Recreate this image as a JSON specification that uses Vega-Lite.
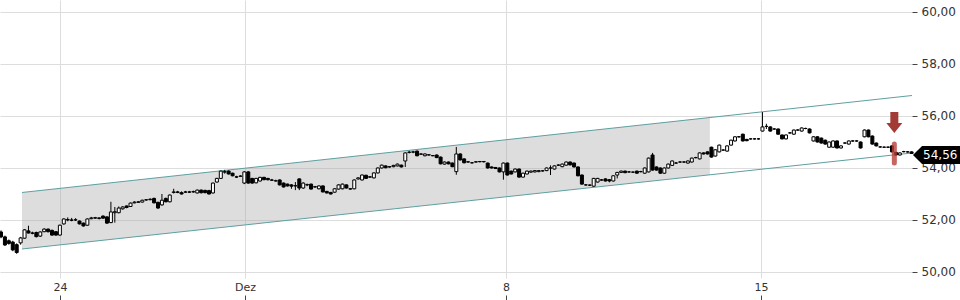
{
  "$schema": "https://vega.github.io/schema/vega-lite/v6.json",
  "width": 912,
  "height": 278,
  "autosize": {"type": "none"},
  "padding": {"left": 0, "top": 0, "right": 48, "bottom": 22},
  "config": {
    "font": "DejaVu Sans",
    "view": {"stroke": null},
    "axis": {"gridColor": "#dddddd", "labelColor": "#333333", "labelFontSize": 11, "domain": false}
  },
  "datasets": {
    "channelArea": [
      {"i": 5.35, "lo": 50.885, "hi": 53.058},
      {"i": 180.6, "lo": 53.738, "hi": 55.942}
    ],
    "channelLines": [
      {"x1": 5.35, "v1": 53.058, "x2": 232.1, "v2": 56.788},
      {"x1": 5.35, "v1": 50.885, "x2": 232.1, "v2": 54.577}
    ],
    "signal": [
      {"i": 227.6, "top": 55.75, "lo": 54.19, "hi": 54.92}
    ],
    "last": [
      {"i": 238.34, "ti": 239.3, "v": 54.5, "label": "54,56"}
    ],
    "candles": [
{"i":0,"o":51.54,"h":51.6,"l":51.3,"c":51.35},
{"i":1,"o":51.35,"h":51.4,"l":51.0,"c":51.04},
{"i":2,"o":51.2,"h":51.25,"l":51.05,"c":51.1},
{"i":3,"o":51.15,"h":51.2,"l":50.8,"c":50.85},
{"i":4,"o":51.05,"h":51.1,"l":50.7,"c":50.75},
{"i":5,"o":51.12,"h":51.35,"l":51.05,"c":51.31},
{"i":6,"o":51.3,"h":51.65,"l":51.28,"c":51.62},
{"i":7,"o":51.58,"h":51.78,"l":51.48,"c":51.5},
{"i":8,"o":51.5,"h":51.55,"l":51.45,"c":51.49},
{"i":9,"o":51.52,"h":51.55,"l":51.33,"c":51.36},
{"i":10,"o":51.38,"h":51.56,"l":51.35,"c":51.54},
{"i":11,"o":51.55,"h":51.68,"l":51.53,"c":51.65},
{"i":12,"o":51.65,"h":51.67,"l":51.52,"c":51.55},
{"i":13,"o":51.6,"h":51.63,"l":51.4,"c":51.42},
{"i":14,"o":51.55,"h":51.57,"l":51.4,"c":51.42},
{"i":15,"o":51.42,"h":51.82,"l":51.4,"c":51.8},
{"i":16,"o":51.85,"h":52.06,"l":51.82,"c":52.04},
{"i":17,"o":52.0,"h":52.1,"l":51.95,"c":52.02},
{"i":18,"o":52.0,"h":52.08,"l":51.95,"c":51.99},
{"i":19,"o":52.0,"h":52.07,"l":51.96,"c":52.01},
{"i":20,"o":51.96,"h":51.98,"l":51.83,"c":51.85},
{"i":21,"o":51.88,"h":51.9,"l":51.75,"c":51.77},
{"i":22,"o":51.8,"h":52.06,"l":51.78,"c":52.04},
{"i":23,"o":52.05,"h":52.12,"l":52.03,"c":52.08},
{"i":24,"o":52.07,"h":52.12,"l":52.04,"c":52.09},
{"i":25,"o":52.08,"h":52.1,"l":52.02,"c":52.06},
{"i":26,"o":52.15,"h":52.18,"l":52.05,"c":52.07},
{"i":27,"o":52.12,"h":52.14,"l":51.85,"c":51.88},
{"i":28,"o":51.9,"h":52.7,"l":51.88,"c":52.31},
{"i":29,"o":52.28,"h":52.5,"l":51.9,"c":52.32},
{"i":30,"o":52.28,"h":52.52,"l":52.26,"c":52.46},
{"i":31,"o":52.43,"h":52.53,"l":52.4,"c":52.5},
{"i":32,"o":52.54,"h":52.56,"l":52.45,"c":52.48},
{"i":33,"o":52.52,"h":52.67,"l":52.5,"c":52.65},
{"i":34,"o":52.66,"h":52.72,"l":52.64,"c":52.69},
{"i":35,"o":52.68,"h":52.73,"l":52.66,"c":52.7},
{"i":36,"o":52.69,"h":52.78,"l":52.67,"c":52.76},
{"i":37,"o":52.77,"h":52.8,"l":52.74,"c":52.78},
{"i":38,"o":52.78,"h":52.83,"l":52.76,"c":52.8},
{"i":39,"o":52.83,"h":52.86,"l":52.64,"c":52.66},
{"i":40,"o":52.68,"h":52.7,"l":52.43,"c":52.46},
{"i":41,"o":52.58,"h":53.0,"l":52.55,"c":52.76},
{"i":42,"o":52.83,"h":52.86,"l":52.68,"c":52.7},
{"i":43,"o":52.7,"h":52.98,"l":52.68,"c":52.96},
{"i":44,"o":53.06,"h":53.2,"l":53.02,"c":53.08},
{"i":45,"o":53.08,"h":53.12,"l":53.03,"c":53.06},
{"i":46,"o":53.05,"h":53.1,"l":52.98,"c":53.0},
{"i":47,"o":53.07,"h":53.12,"l":53.04,"c":53.08},
{"i":48,"o":53.08,"h":53.12,"l":53.04,"c":53.07},
{"i":49,"o":53.08,"h":53.13,"l":53.05,"c":53.09},
{"i":50,"o":53.04,"h":53.17,"l":53.02,"c":53.15},
{"i":51,"o":53.15,"h":53.17,"l":53.02,"c":53.05},
{"i":52,"o":53.14,"h":53.16,"l":53.03,"c":53.05},
{"i":53,"o":53.13,"h":53.16,"l":52.98,"c":53.0},
{"i":54,"o":53.04,"h":53.44,"l":53.02,"c":53.42},
{"i":55,"o":53.46,"h":53.62,"l":53.44,"c":53.6},
{"i":56,"o":53.6,"h":53.9,"l":53.58,"c":53.88},
{"i":57,"o":53.84,"h":53.93,"l":53.78,"c":53.86},
{"i":58,"o":53.88,"h":53.91,"l":53.75,"c":53.77},
{"i":59,"o":53.8,"h":53.82,"l":53.68,"c":53.7},
{"i":60,"o":53.66,"h":53.7,"l":53.62,"c":53.65},
{"i":61,"o":53.68,"h":53.72,"l":53.66,"c":53.69},
{"i":62,"o":53.42,"h":53.88,"l":53.38,"c":53.85},
{"i":63,"o":53.85,"h":53.88,"l":53.4,"c":53.42},
{"i":64,"o":53.6,"h":53.62,"l":53.4,"c":53.42},
{"i":65,"o":53.43,"h":53.62,"l":53.41,"c":53.6},
{"i":66,"o":53.5,"h":53.66,"l":53.48,"c":53.64},
{"i":67,"o":53.64,"h":53.66,"l":53.53,"c":53.55},
{"i":68,"o":53.6,"h":53.62,"l":53.52,"c":53.55},
{"i":69,"o":53.54,"h":53.58,"l":53.5,"c":53.53},
{"i":70,"o":53.5,"h":53.55,"l":53.48,"c":53.51},
{"i":71,"o":53.54,"h":53.56,"l":53.33,"c":53.35},
{"i":72,"o":53.42,"h":53.44,"l":53.25,"c":53.27},
{"i":73,"o":53.38,"h":53.4,"l":53.29,"c":53.31},
{"i":74,"o":53.35,"h":53.38,"l":53.2,"c":53.3},
{"i":75,"o":53.32,"h":53.46,"l":53.15,"c":53.31},
{"i":76,"o":53.58,"h":53.6,"l":53.15,"c":53.23},
{"i":77,"o":53.23,"h":53.45,"l":53.2,"c":53.42},
{"i":78,"o":53.35,"h":53.4,"l":53.3,"c":53.36},
{"i":79,"o":53.38,"h":53.4,"l":53.17,"c":53.19},
{"i":80,"o":53.27,"h":53.31,"l":53.24,"c":53.28},
{"i":81,"o":53.2,"h":53.33,"l":53.18,"c":53.31},
{"i":82,"o":53.31,"h":53.33,"l":53.06,"c":53.08},
{"i":83,"o":53.1,"h":53.12,"l":53.02,"c":53.04},
{"i":84,"o":53.06,"h":53.08,"l":52.98,"c":53.0},
{"i":85,"o":53.07,"h":53.22,"l":53.05,"c":53.2},
{"i":86,"o":53.19,"h":53.37,"l":53.17,"c":53.35},
{"i":87,"o":53.2,"h":53.4,"l":53.18,"c":53.38},
{"i":88,"o":53.35,"h":53.37,"l":53.21,"c":53.23},
{"i":89,"o":53.2,"h":53.23,"l":53.17,"c":53.19},
{"i":90,"o":53.2,"h":53.56,"l":53.18,"c":53.54},
{"i":91,"o":53.58,"h":53.64,"l":53.55,"c":53.62},
{"i":92,"o":53.54,"h":53.75,"l":53.52,"c":53.73},
{"i":93,"o":53.72,"h":53.74,"l":53.58,"c":53.6},
{"i":94,"o":53.66,"h":53.69,"l":53.63,"c":53.65},
{"i":95,"o":53.62,"h":53.83,"l":53.6,"c":53.81},
{"i":96,"o":53.81,"h":54.02,"l":53.79,"c":54.0},
{"i":97,"o":54.0,"h":54.13,"l":53.98,"c":54.11},
{"i":98,"o":54.08,"h":54.1,"l":53.99,"c":54.01},
{"i":99,"o":54.04,"h":54.07,"l":54.01,"c":54.05},
{"i":100,"o":54.05,"h":54.12,"l":54.03,"c":54.1},
{"i":101,"o":54.08,"h":54.17,"l":54.06,"c":54.15},
{"i":102,"o":54.11,"h":54.13,"l":54.02,"c":54.04},
{"i":103,"o":54.27,"h":54.6,"l":54.04,"c":54.58},
{"i":104,"o":54.6,"h":54.66,"l":54.56,"c":54.61},
{"i":105,"o":54.61,"h":54.66,"l":54.57,"c":54.62},
{"i":106,"o":54.65,"h":54.67,"l":54.45,"c":54.47},
{"i":107,"o":54.53,"h":54.57,"l":54.5,"c":54.54},
{"i":108,"o":54.47,"h":54.56,"l":54.45,"c":54.54},
{"i":109,"o":54.5,"h":54.53,"l":54.48,"c":54.51},
{"i":110,"o":54.48,"h":54.5,"l":54.45,"c":54.47},
{"i":111,"o":54.5,"h":54.52,"l":54.38,"c":54.4},
{"i":112,"o":54.42,"h":54.44,"l":54.14,"c":54.16},
{"i":113,"o":54.15,"h":54.25,"l":54.13,"c":54.23},
{"i":114,"o":54.23,"h":54.25,"l":54.14,"c":54.16},
{"i":115,"o":54.19,"h":54.21,"l":54.03,"c":54.05},
{"i":116,"o":53.86,"h":54.81,"l":53.74,"c":54.54},
{"i":117,"o":54.54,"h":54.56,"l":54.29,"c":54.31},
{"i":118,"o":54.35,"h":54.37,"l":54.18,"c":54.2},
{"i":119,"o":54.23,"h":54.26,"l":54.2,"c":54.24},
{"i":120,"o":54.2,"h":54.23,"l":54.17,"c":54.2},
{"i":121,"o":54.23,"h":54.26,"l":54.21,"c":54.24},
{"i":122,"o":54.24,"h":54.27,"l":54.22,"c":54.25},
{"i":123,"o":54.25,"h":54.27,"l":54.21,"c":54.24},
{"i":124,"o":54.19,"h":54.21,"l":53.98,"c":54.0},
{"i":125,"o":54.04,"h":54.06,"l":53.98,"c":54.0},
{"i":126,"o":54.02,"h":54.04,"l":53.96,"c":53.98},
{"i":127,"o":54.0,"h":54.02,"l":53.83,"c":53.85},
{"i":128,"o":53.85,"h":54.21,"l":53.55,"c":54.19},
{"i":129,"o":54.19,"h":54.21,"l":53.71,"c":53.73},
{"i":130,"o":53.88,"h":53.9,"l":53.75,"c":53.77},
{"i":131,"o":53.85,"h":53.98,"l":53.83,"c":53.96},
{"i":132,"o":53.96,"h":53.98,"l":53.63,"c":53.65},
{"i":133,"o":53.65,"h":53.82,"l":53.63,"c":53.8},
{"i":134,"o":53.77,"h":53.9,"l":53.75,"c":53.88},
{"i":135,"o":53.84,"h":53.9,"l":53.82,"c":53.88},
{"i":136,"o":53.85,"h":53.92,"l":53.83,"c":53.9},
{"i":137,"o":53.86,"h":53.92,"l":53.84,"c":53.9},
{"i":138,"o":53.89,"h":53.92,"l":53.86,"c":53.89},
{"i":139,"o":53.9,"h":54.02,"l":53.88,"c":54.0},
{"i":140,"o":54.0,"h":54.1,"l":53.73,"c":54.0},
{"i":141,"o":53.96,"h":54.1,"l":53.94,"c":54.08},
{"i":142,"o":54.11,"h":54.14,"l":54.08,"c":54.11},
{"i":143,"o":54.05,"h":54.17,"l":54.03,"c":54.15},
{"i":144,"o":54.11,"h":54.25,"l":54.09,"c":54.23},
{"i":145,"o":54.23,"h":54.25,"l":54.1,"c":54.12},
{"i":146,"o":54.19,"h":54.21,"l":54.02,"c":54.04},
{"i":147,"o":54.04,"h":54.06,"l":53.68,"c":53.7},
{"i":148,"o":53.73,"h":53.75,"l":53.36,"c":53.38},
{"i":149,"o":53.35,"h":53.38,"l":53.32,"c":53.35},
{"i":150,"o":53.34,"h":53.37,"l":53.31,"c":53.34},
{"i":151,"o":53.3,"h":53.62,"l":53.28,"c":53.6},
{"i":152,"o":53.46,"h":53.62,"l":53.44,"c":53.6},
{"i":153,"o":53.54,"h":53.57,"l":53.51,"c":53.54},
{"i":154,"o":53.58,"h":53.6,"l":53.48,"c":53.5},
{"i":155,"o":53.55,"h":53.57,"l":53.45,"c":53.5},
{"i":156,"o":53.5,"h":53.72,"l":53.48,"c":53.7},
{"i":157,"o":53.73,"h":53.85,"l":53.6,"c":53.83},
{"i":158,"o":53.83,"h":53.9,"l":53.81,"c":53.88},
{"i":159,"o":53.88,"h":53.9,"l":53.8,"c":53.82},
{"i":160,"o":53.85,"h":53.88,"l":53.82,"c":53.85},
{"i":161,"o":53.84,"h":53.87,"l":53.81,"c":53.84},
{"i":162,"o":53.88,"h":53.9,"l":53.78,"c":53.8},
{"i":163,"o":53.86,"h":53.89,"l":53.83,"c":53.86},
{"i":164,"o":53.8,"h":54.02,"l":53.78,"c":54.0},
{"i":165,"o":53.85,"h":54.4,"l":53.83,"c":54.38},
{"i":166,"o":54.5,"h":54.58,"l":53.9,"c":53.92},
{"i":167,"o":54.04,"h":54.06,"l":53.9,"c":53.92},
{"i":168,"o":54.0,"h":54.02,"l":53.78,"c":53.8},
{"i":169,"o":53.8,"h":54.02,"l":53.78,"c":54.0},
{"i":170,"o":54.0,"h":54.17,"l":53.98,"c":54.15},
{"i":171,"o":54.1,"h":54.29,"l":54.08,"c":54.27},
{"i":172,"o":54.19,"h":54.23,"l":54.16,"c":54.19},
{"i":173,"o":54.23,"h":54.26,"l":54.2,"c":54.23},
{"i":174,"o":54.23,"h":54.26,"l":54.2,"c":54.23},
{"i":175,"o":54.19,"h":54.29,"l":54.17,"c":54.27},
{"i":176,"o":54.23,"h":54.4,"l":54.21,"c":54.38},
{"i":177,"o":54.4,"h":54.43,"l":54.37,"c":54.4},
{"i":178,"o":54.35,"h":54.6,"l":54.33,"c":54.58},
{"i":179,"o":54.58,"h":54.6,"l":54.52,"c":54.54},
{"i":180,"o":54.62,"h":54.64,"l":54.52,"c":54.54},
{"i":181,"o":54.8,"h":54.82,"l":54.4,"c":54.42},
{"i":182,"o":54.46,"h":54.72,"l":54.44,"c":54.7},
{"i":183,"o":54.62,"h":54.9,"l":54.6,"c":54.88},
{"i":184,"o":54.69,"h":54.72,"l":54.66,"c":54.69},
{"i":185,"o":54.65,"h":54.87,"l":54.63,"c":54.85},
{"i":186,"o":54.88,"h":55.09,"l":54.86,"c":55.07},
{"i":187,"o":55.04,"h":55.22,"l":55.02,"c":55.2},
{"i":188,"o":55.2,"h":55.23,"l":55.17,"c":55.2},
{"i":189,"o":55.3,"h":55.32,"l":55.02,"c":55.04},
{"i":190,"o":55.1,"h":55.12,"l":55.03,"c":55.05},
{"i":191,"o":55.12,"h":55.15,"l":55.09,"c":55.12},
{"i":192,"o":55.12,"h":55.15,"l":55.09,"c":55.12},
{"i":193,"o":55.12,"h":55.15,"l":55.09,"c":55.12},
{"i":194,"o":55.42,"h":56.15,"l":55.4,"c":55.58},
{"i":195,"o":55.6,"h":55.7,"l":55.5,"c":55.6},
{"i":196,"o":55.58,"h":55.6,"l":55.4,"c":55.42},
{"i":197,"o":55.5,"h":55.53,"l":55.47,"c":55.5},
{"i":198,"o":55.5,"h":55.52,"l":55.28,"c":55.3},
{"i":199,"o":55.27,"h":55.29,"l":55.1,"c":55.12},
{"i":200,"o":55.12,"h":55.29,"l":55.1,"c":55.27},
{"i":201,"o":55.35,"h":55.38,"l":55.32,"c":55.35},
{"i":202,"o":55.3,"h":55.48,"l":55.28,"c":55.46},
{"i":203,"o":55.46,"h":55.49,"l":55.43,"c":55.46},
{"i":204,"o":55.42,"h":55.56,"l":55.4,"c":55.54},
{"i":205,"o":55.52,"h":55.55,"l":55.49,"c":55.52},
{"i":206,"o":55.5,"h":55.52,"l":55.33,"c":55.35},
{"i":207,"o":55.04,"h":55.22,"l":55.02,"c":55.2},
{"i":208,"o":55.2,"h":55.22,"l":54.98,"c":55.0},
{"i":209,"o":55.15,"h":55.17,"l":54.94,"c":54.96},
{"i":210,"o":55.07,"h":55.09,"l":54.9,"c":54.92},
{"i":211,"o":54.8,"h":55.02,"l":54.78,"c":55.0},
{"i":212,"o":54.8,"h":55.06,"l":54.78,"c":55.04},
{"i":213,"o":55.04,"h":55.06,"l":54.75,"c":54.77},
{"i":214,"o":54.77,"h":54.87,"l":54.75,"c":54.85},
{"i":215,"o":54.96,"h":54.99,"l":54.93,"c":54.96},
{"i":216,"o":54.92,"h":55.06,"l":54.9,"c":55.04},
{"i":217,"o":55.04,"h":55.07,"l":55.01,"c":55.04},
{"i":218,"o":55.04,"h":55.07,"l":55.01,"c":55.04},
{"i":219,"o":55.0,"h":55.02,"l":54.75,"c":54.77},
{"i":220,"o":55.2,"h":55.48,"l":55.18,"c":55.46},
{"i":221,"o":55.46,"h":55.48,"l":55.18,"c":55.2},
{"i":222,"o":55.23,"h":55.25,"l":54.9,"c":54.92},
{"i":223,"o":54.96,"h":54.98,"l":54.83,"c":54.85},
{"i":224,"o":54.81,"h":54.84,"l":54.78,"c":54.81},
{"i":225,"o":54.8,"h":54.83,"l":54.77,"c":54.8},
{"i":226,"o":54.8,"h":54.83,"l":54.77,"c":54.8},
{"i":227,"o":54.85,"h":54.87,"l":54.6,"c":54.62},
{"i":228,"o":54.6,"h":54.62,"l":54.48,"c":54.5},
{"i":229,"o":54.5,"h":54.6,"l":54.48,"c":54.58},
{"i":230,"o":54.63,"h":54.66,"l":54.6,"c":54.63},
{"i":231,"o":54.62,"h":54.65,"l":54.59,"c":54.62},
{"i":232,"o":54.62,"h":54.64,"l":54.54,"c":54.56}
    ]
  },
  "layer": [
    {
      "data": {"name": "channelArea"},
      "mark": {"type": "area", "fill": "#aaaaaa", "fillOpacity": 0.4},
      "encoding": {
        "x": {"field": "i", "type": "quantitative", "scale": {"domain": [-0.2548, 232.1], "nice": false, "zero": false, "padding": 0},
          "axis": {"orient": "bottom", "values": [15.03, 62.17, 128.66, 193.63], "grid": true, "ticks": true, "tickSize": 5, "tickColor": "#444444",
            "offset": 17, "labelPadding": -19, "labelFlush": false,
            "labelExpr": "datum.value < 30 ? '24' : datum.value < 100 ? 'Dez' : datum.value < 150 ? '8' : '15'", "title": null}},
        "y": {"field": "hi", "type": "quantitative", "scale": {"domain": [49.769, 60.4615], "nice": false, "zero": false},
          "axis": {"orient": "right", "values": [50, 52, 54, 56, 58, 60], "grid": true, "tickSize": 5, "tickColor": "#444444", "labelPadding": 4, "labelFontSize": 12,
            "labelExpr": "replace(format(datum.value, '.2f'), '.', ',')", "title": null}},
        "y2": {"field": "lo"}
      }
    },
    {
      "data": {"name": "channelLines"},
      "mark": {"type": "rule", "color": "#5e9fa1", "strokeWidth": 1},
      "encoding": {
        "x": {"field": "x1", "type": "quantitative"},
        "x2": {"field": "x2"},
        "y": {"field": "v1", "type": "quantitative"},
        "y2": {"field": "v2"}
      }
    },
    {
      "data": {"name": "candles"},
      "mark": {"type": "rule", "color": "#000000", "strokeWidth": 1},
      "encoding": {
        "x": {"field": "i", "type": "quantitative"},
        "y": {"field": "l", "type": "quantitative"},
        "y2": {"field": "h"}
      }
    },
    {
      "data": {"name": "candles"},
      "mark": {"type": "bar", "size": 3, "stroke": "#000000", "strokeWidth": 1},
      "encoding": {
        "x": {"field": "i", "type": "quantitative"},
        "y": {"field": "o", "type": "quantitative"},
        "y2": {"field": "c"},
        "fill": {"condition": {"test": "datum.c >= datum.o", "value": "#ffffff"}, "value": "#000000"}
      }
    },
    {
      "data": {"name": "signal"},
      "mark": {"type": "rule", "color": "#b8403a", "opacity": 0.8, "strokeWidth": 5, "strokeCap": "round"},
      "encoding": {
        "x": {"field": "i", "type": "quantitative"},
        "y": {"field": "lo", "type": "quantitative"},
        "y2": {"field": "hi"}
      }
    },
    {
      "data": {"name": "signal"},
      "mark": {"type": "point", "filled": true, "opacity": 1, "color": "#a33b35", "size": 441,
        "shape": "M-0.381,-1L0.381,-1L0.381,0.048L0.762,0.048L0,1L-0.762,0.048L-0.381,0.048Z"},
      "encoding": {
        "x": {"field": "i", "type": "quantitative"},
        "y": {"field": "top", "type": "quantitative"}
      }
    },
    {
      "data": {"name": "last"},
      "mark": {"type": "point", "filled": true, "opacity": 1, "color": "#000000", "size": 2304, "clip": false,
        "shape": "M-0.98,0L-0.6,-0.375L1,-0.375L1,0.375L-0.6,0.375Z"},
      "encoding": {
        "x": {"field": "i", "type": "quantitative"},
        "y": {"field": "v", "type": "quantitative"}
      }
    },
    {
      "data": {"name": "last"},
      "mark": {"type": "text", "color": "#ffffff", "fontSize": 12, "align": "center", "baseline": "middle"},
      "encoding": {
        "x": {"field": "ti", "type": "quantitative"},
        "y": {"field": "v", "type": "quantitative"},
        "text": {"field": "label"}
      }
    }
  ]
}
